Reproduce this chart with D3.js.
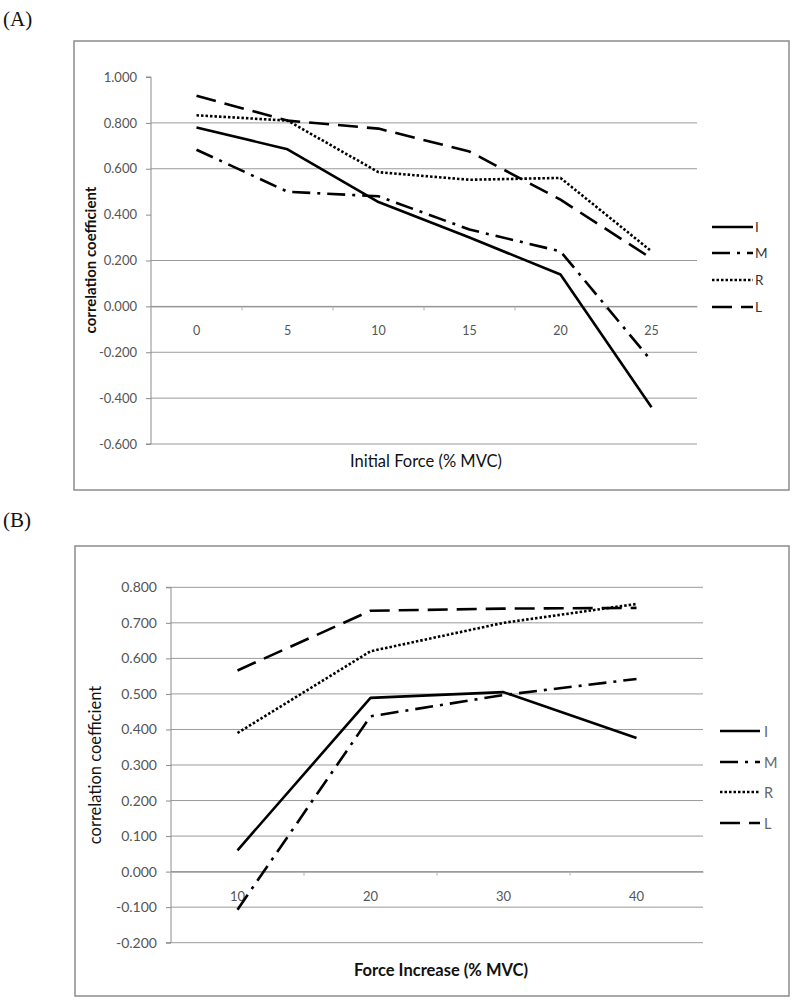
<!DOCTYPE html>
<html><head><meta charset="utf-8">
<script src="https://cdn.jsdelivr.net/npm/d3@7"></script>
<style>
html,body{margin:0;padding:0;background:#fff;}
svg{display:block;}
</style></head>
<body>
<svg id="chart" width="800" height="1003"></svg>
<script>
// ---- data ----
const seriesNames = ["I", "M", "R", "L"];

const catsA = ["0", "5", "10", "15", "20", "25"];
const A_I = [0.780, 0.685, 0.455, 0.300, 0.139, -0.440];
const A_M = [0.683, 0.500, 0.480, 0.335, 0.240, -0.238];
const A_R = [0.833, 0.810, 0.585, 0.552, 0.560, 0.240];
const A_L = [0.918, 0.810, 0.775, 0.675, 0.465, 0.209];
const ticksA = [1.0, 0.8, 0.6, 0.4, 0.2, 0.0, -0.2, -0.4, -0.6];
const gridA = [0.8, 0.6, 0.2, 0.0, -0.2, -0.4, -0.6];

const catsB = ["10", "20", "30", "40"];
const B_I = [0.060, 0.489, 0.505, 0.376];
const B_M = [-0.107, 0.437, 0.497, 0.542];
const B_R = [0.390, 0.620, 0.700, 0.753];
const B_L = [0.566, 0.734, 0.740, 0.742];
const ticksB = [0.8, 0.7, 0.6, 0.5, 0.4, 0.3, 0.2, 0.1, 0.0, -0.1, -0.2];
const gridB = [0.8, 0.7, 0.6, 0.5, 0.4, 0.3, 0.2, 0.1, 0.0, -0.1, -0.2];

// ---- styles ----
const dashes = {I: null, M: "18,7,3,7", R: "2.5,2", L: "20,9"};
const FONT = "Lato, 'Open Sans', sans-serif";

const svg = d3.select("#chart");

function panel(cfg) {
  const g = svg.append("g");
  g.append("text").attr("x", cfg.letterX).attr("y", cfg.letterY)
    .attr("font-family", "'Liberation Serif', 'Times New Roman', serif")
    .attr("font-size", 21).attr("fill", "#111").text(cfg.letter);
  g.append("rect").attr("x", cfg.box[0]).attr("y", cfg.box[1])
    .attr("width", cfg.box[2]).attr("height", cfg.box[3])
    .attr("fill", "none").attr("stroke", "#8c8c8c").attr("stroke-width", 1.5);

  const x = d3.scaleBand().domain(cfg.cats).range([cfg.left, cfg.right]).padding(0);
  const y = d3.scaleLinear().domain(cfg.yDomain).range([cfg.bottom, cfg.top]);

  g.append("g").selectAll("line").data(cfg.grid).join("line")
    .attr("x1", cfg.left).attr("x2", cfg.right)
    .attr("y1", d => y(d)).attr("y2", d => y(d))
    .attr("stroke", "#9a9a9a").attr("stroke-width", 1);

  const yAxis = d3.axisLeft(y).tickValues(cfg.ticks).tickSize(5).tickPadding(cfg.tickPad);
  const ya = g.append("g").attr("transform", `translate(${cfg.left},0)`).call(yAxis);
  ya.select(".domain").attr("stroke", "#8c8c8c").attr("d", `M-5,${y(cfg.yDomain[1])}H0V${y(cfg.yDomain[0])}H-5`);
  ya.selectAll(".tick line").attr("stroke", "#8c8c8c");
  ya.selectAll(".tick text").attr("font-family", FONT).attr("font-size", cfg.yFont)
    .attr("fill", "#555").text(d => d3.format(".3f")(d).replace("−", "-"));

  const xAxis = d3.axisBottom(x).tickSize(0).tickPadding(cfg.xPad);
  const xa = g.append("g").attr("transform", `translate(0,${y(0)})`).call(xAxis);
  xa.select(".domain").attr("stroke", "#8c8c8c");
  xa.selectAll(".tick text").attr("font-family", FONT).attr("font-size", cfg.xFont).attr("fill", "#555");
  g.append("g").selectAll("line").data(cfg.cats.slice(1)).join("line")
    .attr("x1", d => x(d)).attr("x2", d => x(d))
    .attr("y1", y(0)).attr("y2", y(0) + 4)
    .attr("stroke", "#b0b0b0").attr("stroke-width", 1);

  g.append("text").attr("x", cfg.xTitle[0]).attr("y", cfg.xTitle[1])
    .attr("text-anchor", "middle").attr("font-family", FONT)
    .attr("font-size", cfg.xTitleSize).attr("font-weight", cfg.xTitleWeight)
    .attr("fill", "#111").text(cfg.xTitleText);
  g.append("text").attr("transform", `translate(${cfg.yTitle[0]},${cfg.yTitle[1]}) rotate(-90)`)
    .attr("text-anchor", "middle").attr("font-family", FONT)
    .attr("font-size", cfg.yTitleSize).attr("font-weight", cfg.yTitleWeight)
    .attr("fill", "#111").text("correlation coefficient");

  const line = d3.line().x((d, i) => x(cfg.cats[i]) + x.bandwidth() / 2).y(d => y(d));
  seriesNames.forEach(name => {
    g.append("path").datum(cfg.series[name]).attr("d", line)
      .attr("fill", "none").attr("stroke", "#000").attr("stroke-width", 2.6)
      .attr("stroke-dasharray", dashes[name]).attr("stroke-linejoin", "round");
  });

  const lg = g.append("g");
  seriesNames.forEach((name, i) => {
    const ly = cfg.legend.ys[i];
    lg.append("line").attr("x1", cfg.legend.x1).attr("x2", cfg.legend.x2)
      .attr("y1", ly).attr("y2", ly).attr("stroke", "#000").attr("stroke-width", 2.6)
      .attr("stroke-dasharray", dashes[name]);
    lg.append("text").attr("x", cfg.legend.tx).attr("y", ly)
      .attr("dominant-baseline", "central").attr("font-family", FONT)
      .attr("font-size", cfg.legend.size).attr("fill", cfg.legend.color).text(name);
  });
}

panel({
  letter: "(A)", letterX: 3, letterY: 26,
  box: [74, 41, 715, 449],
  cats: catsA, left: 151, right: 697, top: 77, bottom: 444, yDomain: [-0.6, 1.0],
  ticks: ticksA, grid: gridA, tickPad: 9, yFont: 13,
  xFont: 12.5, xPad: 20,
  xTitle: [426, 467], xTitleText: "Initial Force (% MVC)", xTitleSize: 16.5, xTitleWeight: "normal",
  yTitle: [96, 260], yTitleSize: 15, yTitleWeight: "bold",
  series: {I: A_I, M: A_M, R: A_R, L: A_L},
  legend: {x1: 712, x2: 753, tx: 755, ys: [227, 253, 280, 307], size: 13.5, color: "#333"}
});

panel({
  letter: "(B)", letterX: 3, letterY: 527,
  box: [75, 546, 714, 450],
  cats: catsB, left: 171, right: 703, top: 587.3, bottom: 942.7, yDomain: [-0.2, 0.8],
  ticks: ticksB, grid: gridB, tickPad: 9, yFont: 14,
  xFont: 13, xPad: 20,
  xTitle: [441, 976], xTitleText: "Force Increase (% MVC)", xTitleSize: 16.5, xTitleWeight: "bold",
  yTitle: [101, 765], yTitleSize: 16.5, yTitleWeight: "normal",
  series: {I: B_I, M: B_M, R: B_R, L: B_L},
  legend: {x1: 720, x2: 760, tx: 764, ys: [731, 762, 792, 823], size: 14.5, color: "#666"}
});
</script>
</body></html>
